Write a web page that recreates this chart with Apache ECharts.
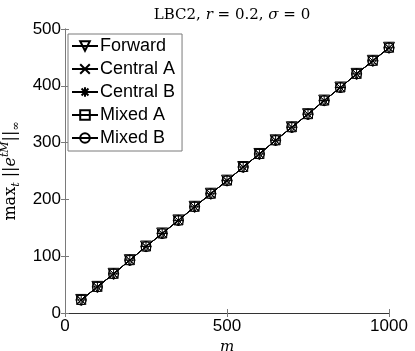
<!DOCTYPE html>
<html>
<head>
<meta charset="utf-8">
<script src="https://cdn.jsdelivr.net/npm/echarts@6/dist/echarts.min.js"></script>
<style>
  html, body { margin: 0; padding: 0; background: #fff; }
  #chart { width: 415px; height: 351px; }
</style>
</head>
<body>
<div id="chart"></div>
<script>
const mValues = [50, 100, 150, 200, 250, 300, 350, 400, 450, 500, 550, 600, 650, 700, 750, 800, 850, 900, 950, 1000]

// the five methods give practically the same curve
const forward  = [23, 46, 69, 93, 117, 140, 163, 187, 210, 233, 257, 280, 304, 327, 350, 374, 397, 421, 444, 467]
const centralA = [23, 46, 69, 93, 117, 140, 163, 187, 210, 233, 257, 280, 304, 327, 350, 374, 397, 421, 444, 467]
const centralB = [23, 46, 69, 93, 117, 140, 163, 187, 210, 233, 257, 280, 304, 327, 350, 374, 397, 421, 444, 467]
const mixedA   = [23, 46, 69, 93, 117, 140, 163, 187, 210, 233, 257, 280, 304, 327, 350, 374, 397, 421, 444, 467]
const mixedB   = [23, 46, 69, 93, 117, 140, 163, 187, 210, 233, 257, 280, 304, 327, 350, 374, 397, 421, 444, 467]

const seriesNames = ['Forward', 'Central A', 'Central B', 'Mixed A', 'Mixed B']
const seriesData = [forward, centralA, centralB, mixedA, mixedB]
const markers = [
  { symbol: 'triangle', rotate: 180, size: 11 },
  { symbol: 'path://M0,0L10,10M10,0L0,10', rotate: 0, size: 9 },
  { symbol: 'path://M0,0L10,10M10,0L0,10M5,-2L5,12M-2,5L12,5', rotate: 0, size: 11 },
  { symbol: 'rect', rotate: 0, size: 9 },
  { symbol: 'circle', rotate: 0, size: 10 }
]

const axisGray = '#7a7a7a'
const sans = '"Liberation Sans", Arial, sans-serif'
const serif = '"DejaVu Serif", "Liberation Serif", serif'

const chart = echarts.init(document.getElementById('chart'), null, { renderer: 'canvas' })

const series = seriesNames.map((name, i) => ({
  name: name,
  type: 'line',
  data: mValues.map((m, j) => [m, seriesData[i][j]]),
  symbol: markers[i].symbol,
  symbolRotate: markers[i].rotate,
  symbolSize: markers[i].size,
  showAllSymbol: true,
  lineStyle: { color: '#000', width: 1 },
  itemStyle: { color: 'rgba(0,0,0,0)', borderColor: '#000', borderWidth: 1 },
  emphasis: { disabled: true },
  animation: false
}))

chart.setOption({
  backgroundColor: '#fff',
  title: {
    text: '{n|LBC2, }{i|r}{n| = 0.2, }{i|σ}{n| = 0}',
    left: 227,
    textAlign: 'center',
    top: 3,
    textStyle: {
      rich: {
        n: { fontFamily: serif, fontSize: 15, fontWeight: 'normal', color: '#000' },
        i: { fontFamily: serif, fontSize: 15, fontWeight: 'normal', fontStyle: 'italic', color: '#000' }
      }
    }
  },
  legend: {
    orient: 'vertical',
    left: 68,
    top: 34,
    padding: [3, 7, 4, 3],
    itemGap: 5,
    itemWidth: 26,
    itemHeight: 12,
    backgroundColor: '#fff',
    borderColor: axisGray,
    borderWidth: 1,
    borderRadius: 0,
    textStyle: { fontFamily: sans, fontSize: 18, color: '#000', padding: [0, 0, 0, -3] },
    data: seriesNames
  },
  grid: { left: 65, right: 26, top: 29, bottom: 38, outerBoundsMode: 'none', containLabel: false },
  xAxis: [{
    type: 'value',
    min: 0,
    max: 1000,
    interval: 500,
    name: 'm',
    nameLocation: 'middle',
    nameGap: 19,
    nameTextStyle: { fontFamily: serif, fontStyle: 'italic', fontSize: 15, color: '#000' },
    axisLine: { show: true, lineStyle: { color: axisGray, width: 1 } },
    axisTick: { show: true, inside: true, length: 4, lineStyle: { color: axisGray } },
    axisLabel: { fontFamily: sans, fontSize: 17, color: '#000', margin: 5, formatter: v => String(v) },
    splitLine: { show: false }
  }, {
    type: 'value',
    position: 'top',
    min: 0,
    max: 1000,
    interval: 500,
    axisLine: { show: true, lineStyle: { color: '#333', width: 1 } },
    axisTick: { show: true, inside: true, length: 4, lineStyle: { color: axisGray } },
    axisLabel: { show: false },
    splitLine: { show: false }
  }],
  yAxis: [{
    type: 'value',
    min: 0,
    max: 500,
    interval: 100,
    name: '{a|max}{s|t}{a| ||}{i|e}{p|tM}{a|||}{s|∞}',
    nameLocation: 'middle',
    nameGap: 34,
    nameRotate: 90,
    nameTextStyle: {
      rich: {
        a: { fontFamily: serif, fontSize: 16, color: '#000', verticalAlign: 'middle', lineHeight: 22 },
        i: { fontFamily: serif, fontSize: 16, fontStyle: 'italic', color: '#000', verticalAlign: 'middle', lineHeight: 22 },
        s: { fontFamily: serif, fontSize: 11, fontStyle: 'italic', color: '#000', verticalAlign: 'bottom', lineHeight: 22 },
        p: { fontFamily: serif, fontSize: 11, fontStyle: 'italic', color: '#000', verticalAlign: 'top', lineHeight: 22 }
      }
    },
    axisLine: { show: true, lineStyle: { color: axisGray, width: 1 } },
    axisTick: { show: true, inside: true, length: 4, lineStyle: { color: axisGray } },
    axisLabel: { fontFamily: sans, fontSize: 17, color: '#000', margin: 4 },
    splitLine: { show: false }
  }, {
    type: 'value',
    position: 'right',
    min: 0,
    max: 500,
    interval: 100,
    axisLine: { show: true, lineStyle: { color: axisGray, width: 1 } },
    axisTick: { show: true, inside: true, length: 4, lineStyle: { color: axisGray } },
    axisLabel: { show: false },
    splitLine: { show: false }
  }],
  series: series
})

window.addEventListener('resize', () => chart.resize())
</script>
</body>
</html>
